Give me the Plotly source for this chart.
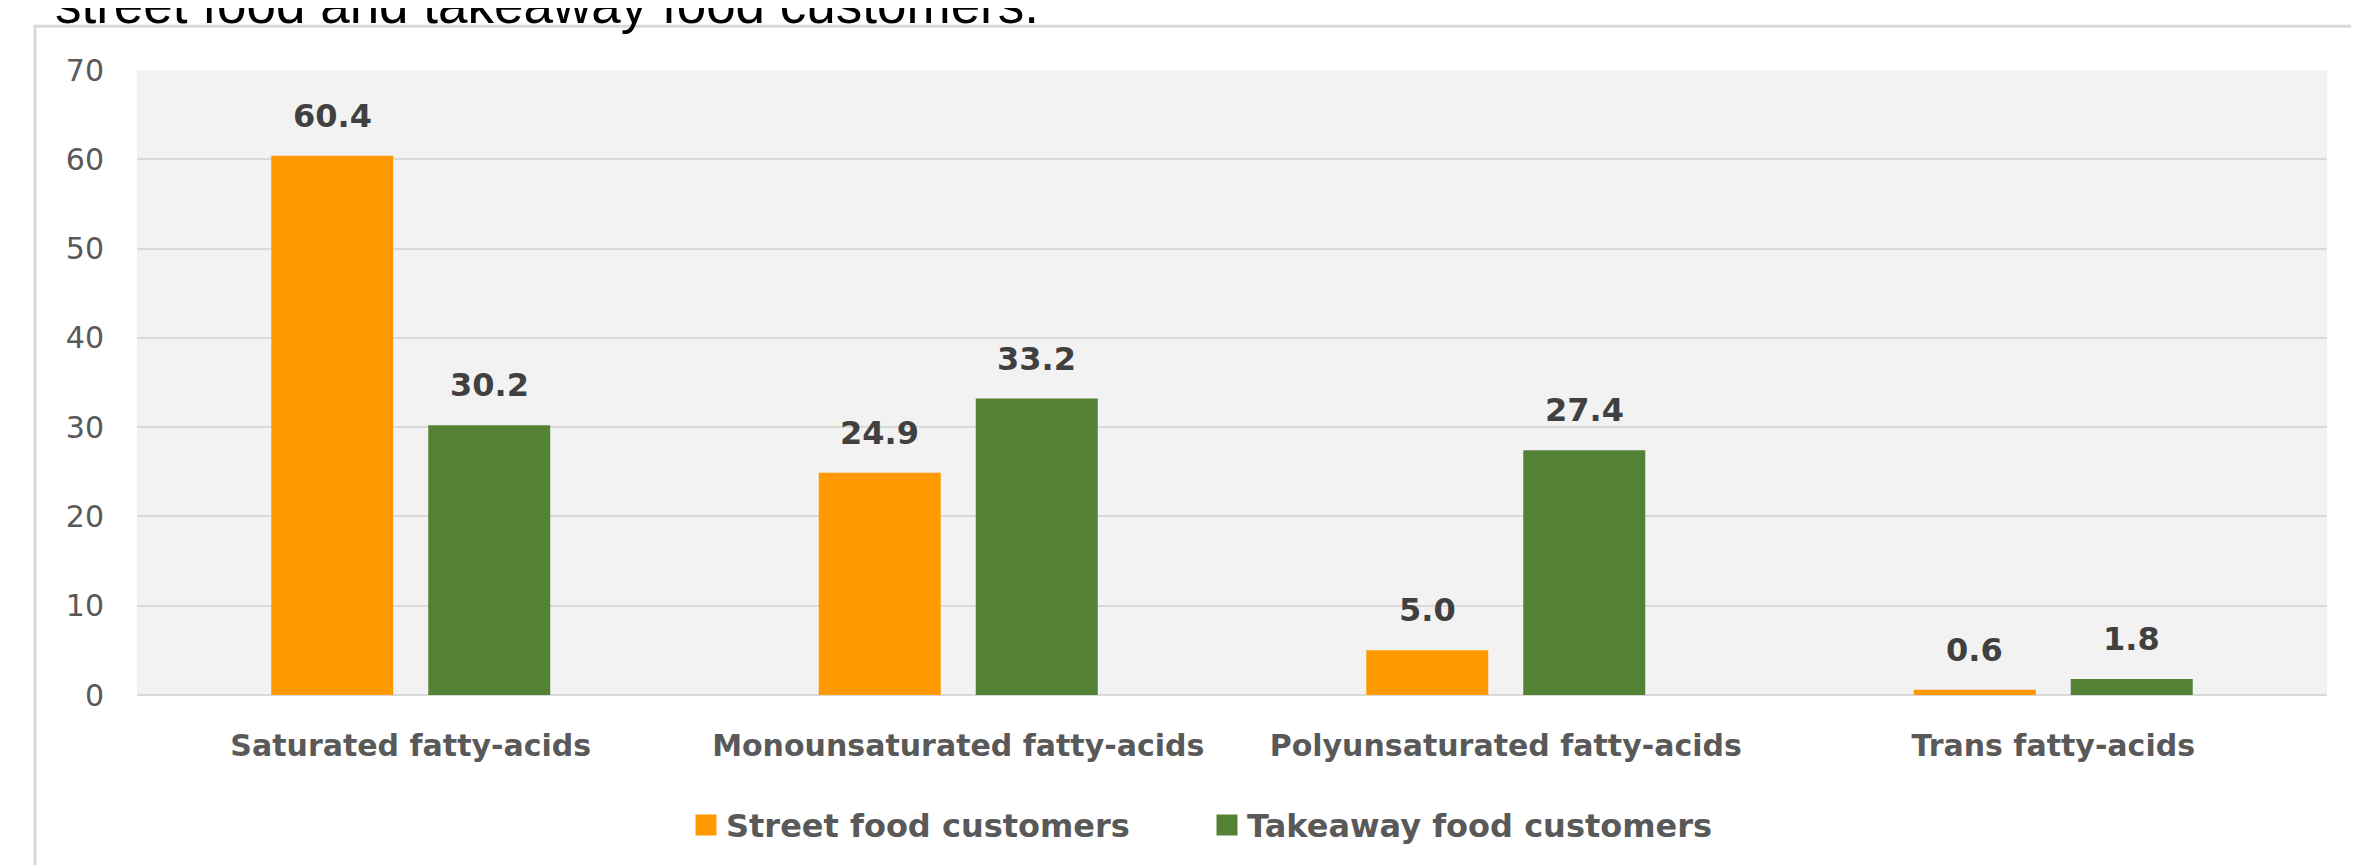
import plotly.graph_objects as go

categories = ["Saturated fatty-acids", "Monounsaturated fatty-acids",
              "Polyunsaturated fatty-acids", "Trans fatty-acids"]
street_food = [60.4, 24.9, 5.0, 0.6]
takeaway_food = [30.2, 33.2, 27.4, 1.8]
series_names = ["Street food customers", "Takeaway food customers"]
series_colors = ["#FF9900", "#548235"]
y_ticks = [0, 10, 20, 30, 40, 50, 60, 70]
title_text = "street food and takeaway food customers."

# page body has an 8px margin; figure coordinates = page coordinates - 8
OFF = 8
W, H = 2359 - OFF, 865 - OFF
L, R, T, B = 137 - OFF, 32, 70 - OFF, 166
pw, ph = W - L - R, H - T - B

def px_x(p):
    return (p - OFF - L) / pw

def px_y(p):
    return (H - B - (p - OFF)) / ph

fig = go.Figure()
for name, vals, col in zip(series_names, [street_food, takeaway_food], series_colors):
    fig.add_trace(go.Bar(x=categories, y=vals, name=name, marker=dict(color=col, line=dict(width=0)),
                         showlegend=False))
    fig.add_trace(go.Scatter(x=[None], y=[None], mode="markers", name=name,
                             marker=dict(symbol="square", size=24, color=col,
                                         line=dict(color=col, width=5))))

# data labels
slot = pw / len(categories) * (1 - 0.4265) / 2
for k, vals in enumerate([street_food, takeaway_food]):
    shift = (-0.5 + k) * slot
    for c, v in zip(categories, vals):
        fig.add_annotation(x=c, y=v, xref="x", yref="y", text=f"{v:.1f}", showarrow=False,
                           xshift=shift, yshift=40, yanchor="middle",
                           font=dict(family="DejaVu Sans", size=32, color="#404040", weight="bold"))

fig.add_annotation(x=px_x(53), y=px_y(36), xref="paper", yref="paper", text=title_text,
                   showarrow=False, xanchor="left", yanchor="bottom",
                   font=dict(family="Liberation Sans", size=53, color="#000000"))

fig.add_shape(type="rect", xref="paper", yref="paper",
              x0=px_x(35), y0=px_y(26), x1=px_x(2500), y1=px_y(1000),
              line=dict(color="#d9d9d9", width=3))

fig.update_layout(
    width=W, height=H,
    margin=dict(l=L, r=R, t=T, b=B, pad=0),
    paper_bgcolor="white", plot_bgcolor="#f2f2f2",
    barmode="group", bargap=0.4265, bargroupgap=0.223,
    font=dict(family="DejaVu Sans", color="#595959"),
    legend=dict(orientation="h", x=px_x(1207), xanchor="center", y=px_y(830), yanchor="middle",
                font=dict(family="DejaVu Sans", size=32, color="#595959", weight="bold"),
                entrywidth=476, bgcolor="rgba(0,0,0,0)"),
    xaxis=dict(showgrid=False, showline=False, ticks="", zeroline=False,
               tickfont=dict(family="DejaVu Sans", size=30, color="#595959", weight="bold"),
               ticklabelstandoff=30),
    yaxis=dict(range=[0, 70], tickvals=y_ticks, showgrid=True, gridcolor="#d9d9d9", gridwidth=2,
               zeroline=True, zerolinecolor="#d9d9d9", zerolinewidth=2, showline=False, ticks="",
               tickfont=dict(family="DejaVu Sans", size=30, color="#595959"),
               ticklabelstandoff=32),
)

fig.write_html("out.html")
